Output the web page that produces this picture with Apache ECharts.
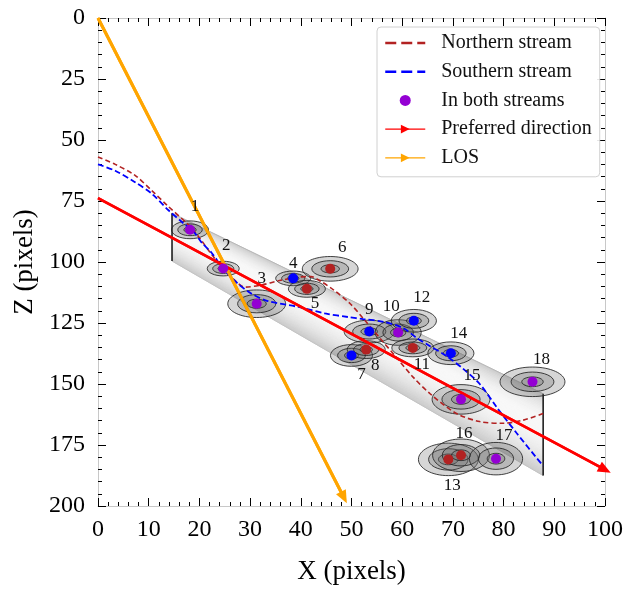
<!DOCTYPE html>
<html><head><meta charset="utf-8">
<script src="https://cdn.jsdelivr.net/npm/echarts@6/dist/echarts.min.js"></script>
<style>html,body{margin:0;padding:0;background:#fff}#c{width:633px;height:590px}</style>
</head><body><div id="c"></div>
<script>
// ---------------- data ----------------
const pointIds = ['1','2','3','4','5','6','7','8','9','10','11','12','13','14','15','16','17','18'];
const pointX = [18.15, 24.7, 31.3, 38.5, 41.2, 45.8, 50.0, 52.9, 53.5, 59.2, 62.1, 62.3, 69.1, 69.6, 71.6, 71.6, 78.5, 85.7];
const pointZ = [86.8, 102.7, 117.1, 106.7, 111.0, 102.8, 138.3, 135.9, 128.5, 128.9, 135.2, 124.1, 180.9, 137.4, 156.3, 179.2, 180.6, 149.1];
// B = in both streams, N = northern stream only, S = southern stream only
const pointStream = ['B','B','B','S','N','N','S','N','S','B','N','S','N','S','B','N','B','B'];
// full widths / heights of the outer uncertainty ellipses (data units)
const ellipseW = [7.3, 6.3, 11.4, 6.9, 7.3, 11.0, 8.3, 7.5, 9.9, 9.1, 8.3, 8.9, 11.8, 9.1, 11.4, 11.2, 10.5, 12.8];
const ellipseH = [7.3, 6.0, 11.3, 6.0, 6.9, 10.1, 8.9, 7.3, 9.3, 10.5, 7.3, 9.3, 13.3, 9.3, 12.1, 13.3, 13.3, 12.1];

const northX = [0, 3.4, 7.3, 10.6, 13.6, 17.8, 19.8, 22.4, 24.7, 26.7, 29.0, 32.3, 35.6, 39.5, 42.0, 44.0, 46.5, 49.7, 52.3, 55.6, 58.9, 62.2, 65.5, 70.7, 75.3, 79.9, 83.9, 87.8];
const northZ = [57.0, 60.0, 64.5, 70.7, 76.7, 84.7, 89.5, 96.9, 102.7, 107.0, 110.3, 109.4, 107.7, 106.2, 106.0, 108.0, 111.5, 117.0, 123.1, 131.2, 139.2, 147.3, 154.0, 162.1, 165.4, 166.1, 164.8, 162.1];
const southX = [0, 3.4, 7.3, 10.6, 13.9, 16.5, 19.1, 20.5, 22.4, 24.7, 27.4, 30.3, 33.5, 39.5, 44.8, 49.5, 52.3, 56.3, 60.2, 62.9, 65.5, 68.8, 72.1, 75.3, 78.6, 82.6, 87.8];
const southZ = [60.0, 62.6, 67.3, 72.0, 78.8, 83.5, 88.2, 92.2, 96.2, 102.7, 108.5, 113.0, 116.0, 118.4, 121.1, 122.6, 123.4, 124.5, 127.1, 131.2, 134.5, 138.6, 143.9, 150.0, 159.4, 170.2, 183.6];

const prefX = [0, 100];
const prefZ = [73.8, 185.1];
const losX = [0, 48.5];
const losZ = [0, 196.5];

// tube (cylinder) ends: X position, top Z, bottom Z
const tubeX = [14.6, 87.8];
const tubeTop = [80.0, 154.0];
const tubeBottom = [99.6, 187.5];

const xTickLabels = [0,10,20,30,40,50,60,70,80,90,100];
const zTickLabels = [0,25,50,75,100,125,150,175,200];

// ---------------- styles ----------------
const labelOffsets = [[5,-23],[3,-23],[5,-25],[0,-15],[8,15],[12,-21],[10,19],[9,16],[0,-22],[-7,-26],[9,17],[8,-23],[4,26],[8,-20],[11,-24],[3,-22],[8,-23],[9,-22]];
const FONT = 'Liberation Serif';
const ringScales = [1, 0.66, 0.33];

const zip = (a, b) => a.map((v, i) => [v, b[i]]);

const chart = echarts.init(document.getElementById('c'), null, {renderer: 'canvas'});

function axisCommon(extra) {
  return Object.assign({
    type: 'value',
    axisLine: {show: true, onZero: false, lineStyle: {color: '#c8c8c8', width: 1}},
    axisTick: {show: true, inside: true, length: 8, lineStyle: {color: '#000', width: 1}},
    minorTick: {show: true, splitNumber: 5, length: 4, lineStyle: {color: '#000', width: 1}},
    splitLine: {show: false},
    minorSplitLine: {show: false}
  }, extra);
}

function tubeRender(params, api) {
  const L0 = api.coord([api.value(0), api.value(1)]);
  const L1 = api.coord([api.value(0), api.value(2)]);
  const R0 = api.coord([api.value(3), api.value(4)]);
  const R1 = api.coord([api.value(3), api.value(5)]);
  const lerp = (a, b, t) => [a[0] + (b[0] - a[0]) * t, a[1] + (b[1] - a[1]) * t];
  const N = 48;
  const children = [];
  for (let i = 0; i < N; i++) {
    const t1 = i / N, t2 = (i + 1) / N, tm = (t1 + t2) / 2;
    const d = tm < 0.38 ? (tm - 0.38) / 0.38 : (tm - 0.38) / 0.62;
    const g = Math.round(248 - 46 * d * d);
    const col = 'rgb(' + g + ',' + g + ',' + g + ')';
    children.push({
      type: 'polygon',
      shape: {points: [lerp(L0, L1, t1), lerp(R0, R1, t1), lerp(R0, R1, t2), lerp(L0, L1, t2)]},
      style: {fill: col, stroke: col, lineWidth: 0.8}
    });
  }
  children.push({type: 'line', shape: {x1: L0[0], y1: L0[1], x2: R0[0], y2: R0[1]}, style: {stroke: '#b8b8b8', lineWidth: 1}});
  children.push({type: 'line', shape: {x1: L1[0], y1: L1[1], x2: R1[0], y2: R1[1]}, style: {stroke: '#c4c4c4', lineWidth: 1}});
  children.push({type: 'line', shape: {x1: L0[0], y1: L0[1], x2: L1[0], y2: L1[1]}, style: {stroke: '#111', lineWidth: 1.5}});
  children.push({type: 'line', shape: {x1: R0[0], y1: R0[1], x2: R1[0], y2: R1[1]}, style: {stroke: '#111', lineWidth: 1.5}});
  return {type: 'group', children: children};
}

function ellipseRender(params, api) {
  const c = api.coord([api.value(0), api.value(1)]);
  const s = api.size([api.value(2), api.value(3)]);
  const rx = s[0] / 2, ry = s[1] / 2;
  return {
    type: 'group',
    children: ringScales.map(k => ({
      type: 'ellipse',
      shape: {cx: c[0], cy: c[1], rx: rx * k, ry: ry * k},
      style: {fill: 'rgba(105,105,105,0.27)', stroke: 'rgba(35,35,35,0.85)', lineWidth: 1}
    }))
  };
}

function labelRender(params, api) {
  const i = params.dataIndex;
  const c = api.coord([api.value(0), api.value(1)]);
  const off = labelOffsets[i];
  return {
    type: 'text',
    x: c[0] + off[0], y: c[1] + off[1],
    style: {text: pointIds[i], font: '17px "' + FONT + '"', fill: '#111', align: 'center', verticalAlign: 'middle'}
  };
}

const idxOf = s => pointStream.map((v, i) => v === s ? i : -1).filter(i => i >= 0);
const ptData = s => idxOf(s).map(i => [pointX[i], pointZ[i]]);

const option = {
  animation: false,
  backgroundColor: '#fff',
  textStyle: {fontFamily: FONT},
  grid: {left: 98, right: 28, top: 18, bottom: 76, containLabel: false},
  xAxis: [
    axisCommon({position: 'bottom', min: xTickLabels[0], max: xTickLabels[xTickLabels.length - 1], interval: 10,
      name: 'X (pixels)', nameLocation: 'middle', nameGap: 52,
      nameTextStyle: {fontFamily: FONT, fontSize: 27, color: '#000'},
      axisLabel: {show: true, margin: 12, fontFamily: FONT, fontSize: 24, color: '#000'}}),
    axisCommon({position: 'top', min: xTickLabels[0], max: xTickLabels[xTickLabels.length - 1], interval: 10,
      axisLabel: {show: false}})
  ],
  yAxis: [
    axisCommon({position: 'left', inverse: true, min: zTickLabels[0], max: zTickLabels[zTickLabels.length - 1], interval: 25,
      name: 'Z (pixels)', nameLocation: 'middle', nameGap: 60,
      nameTextStyle: {fontFamily: FONT, fontSize: 27, color: '#000'},
      axisLabel: {show: true, margin: 13, fontFamily: FONT, fontSize: 24, color: '#000'}}),
    axisCommon({position: 'right', inverse: true, min: zTickLabels[0], max: zTickLabels[zTickLabels.length - 1], interval: 25,
      axisLabel: {show: false}})
  ],
  legend: {
    show: true, orient: 'vertical', left: 377, top: 27, z: 20,
    padding: [5, 8, 8, 7], itemWidth: 40, itemHeight: 11, itemGap: 6.7,
    backgroundColor: 'rgba(255,255,255,0.9)', borderColor: '#d0d0d0', borderWidth: 1, borderRadius: 4,
    textStyle: {fontFamily: FONT, fontSize: 20, color: '#111', lineHeight: 22, padding: [0, 0, 0, 11]},
    data: [
      {name: 'Northern stream', itemStyle: {opacity: 0}, lineStyle: {width: 2.5, type: [11, 5]}},
      {name: 'Southern stream', itemStyle: {opacity: 0}, lineStyle: {width: 2.5, type: [11, 5]}},
      {name: 'In both streams'},
      {name: 'Preferred direction', lineStyle: {width: 1.2}},
      {name: 'LOS', lineStyle: {width: 1.2}}
    ]
  },
  series: [
    {
      name: 'tube', type: 'custom', z: 1, silent: true,
      data: [[tubeX[0], tubeTop[0], tubeBottom[0], tubeX[1], tubeTop[1], tubeBottom[1]]],
      encode: {x: [0, 3], y: [1, 2, 4, 5]},
      renderItem: tubeRender
    },
    {
      name: 'LOS', type: 'line', z: 2, silent: true,
      data: zip(losX, losZ), showSymbol: false, symbol: 'triangle', symbolRotate: -90,
      itemStyle: {color: '#ffa500'}, lineStyle: {color: '#ffa500', width: 3},
      markLine: {silent: true, symbol: ['none', 'triangle'], symbolSize: [11, 13], label: {show: false},
        lineStyle: {color: '#ffa500', width: 3, type: 'solid'},
        data: [[{coord: [losX[0], losZ[0]]}, {coord: [losX[1], losZ[1]]}]]}
    },
    {
      name: 'ellipses', type: 'custom', z: 3, silent: true,
      data: pointX.map((x, i) => [x, pointZ[i], ellipseW[i], ellipseH[i]]),
      encode: {x: 0, y: 1},
      renderItem: ellipseRender
    },
    {
      name: 'Northern stream', type: 'line', z: 4, silent: true, smooth: 0.3,
      data: zip(northX, northZ), symbol: 'none',
      itemStyle: {color: '#b22222'}, lineStyle: {color: '#b22222', width: 1.6, type: [5, 3]}
    },
    {
      name: 'Southern stream', type: 'line', z: 4, silent: true, smooth: 0.3,
      data: zip(southX, southZ), symbol: 'none',
      itemStyle: {color: '#0000ff'}, lineStyle: {color: '#0000ff', width: 1.8, type: [6, 3]}
    },
    {
      name: 'Preferred direction', type: 'line', z: 5, silent: true,
      data: zip(prefX, prefZ), showSymbol: false, symbol: 'triangle', symbolRotate: -90,
      itemStyle: {color: '#ff0000'}, lineStyle: {color: '#ff0000', width: 2.6},
      markLine: {silent: true, symbol: ['none', 'triangle'], symbolSize: [11, 13], label: {show: false},
        lineStyle: {color: '#ff0000', width: 2.6, type: 'solid'},
        data: [[{coord: [prefX[0], prefZ[0]]}, {coord: [prefX[1], prefZ[1]]}]]}
    },
    {
      name: 'northern only', type: 'scatter', z: 6, silent: true, symbolSize: 10,
      data: ptData('N'), itemStyle: {color: '#b22222', opacity: 1}
    },
    {
      name: 'southern only', type: 'scatter', z: 6, silent: true, symbolSize: 10,
      data: ptData('S'), itemStyle: {color: '#0000ff', opacity: 1}
    },
    {
      name: 'In both streams', type: 'scatter', z: 6, silent: true, symbolSize: 10,
      data: ptData('B'), itemStyle: {color: '#9400d3', opacity: 1}
    },
    {
      name: 'labels', type: 'custom', z: 7, silent: true,
      data: zip(pointX, pointZ), encode: {x: 0, y: 1},
      renderItem: labelRender
    }
  ]
};
chart.setOption(option);
</script>
</body></html>
